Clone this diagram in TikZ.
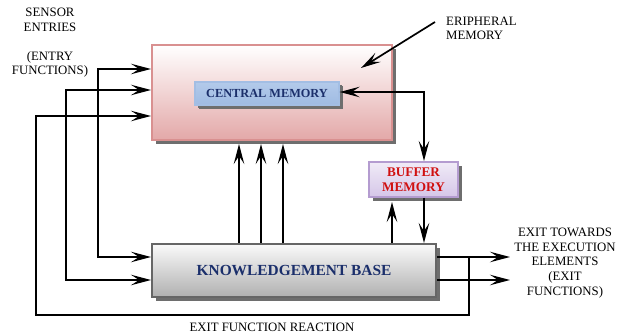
\documentclass[tikz,border=0pt]{standalone}
\usepackage{fontspec}
\setmainfont{Liberation Serif}
\usetikzlibrary{arrows.meta,shadows}

\definecolor{pinkedge}{HTML}{D99090}
\definecolor{pinkfill}{HTML}{E3A8A8}
\definecolor{blueedge}{HTML}{A3BEE4}
\definecolor{bluetop}{HTML}{B3CAEA}
\definecolor{bluemid}{HTML}{D3E2F5}
\definecolor{bluebot}{HTML}{9FBBE3}
\definecolor{lavedge}{HTML}{B49CD0}
\definecolor{lavfill}{HTML}{D5C6E8}
\definecolor{navy}{HTML}{1B2F6B}
\definecolor{redtext}{HTML}{D01010}
\definecolor{shadowgray}{HTML}{6E6E6E}

\tikzset{
  shade box/.style={draw, line width=2pt, inner sep=0pt,
    drop shadow={shadow xshift=4pt, shadow yshift=-4pt, fill=shadowgray, opacity=1}},
  label text/.style={font=\fontsize{12.8}{14.6}\selectfont, align=center, inner sep=0pt},
  tip/.tip={Stealth[length=20pt, width=10.5pt, inset=8pt]},
  conn/.style={line width=1.7pt, -tip},
  conn2/.style={line width=1.7pt, tip-tip},
  connback/.style={line width=1.7pt, tip-}
}

\begin{document}
\begin{tikzpicture}[x=1pt, y=-1pt]
\useasboundingbox (0,0) rectangle (617,336);

% memory blocks
\node[shade box, draw=pinkedge, top color=white, bottom color=pinkfill,
      minimum width=240pt, minimum height=95pt] (cm) at (272,92.5) {};
\node[shade box, line width=1.4pt, draw=blueedge, top color=bluetop, middle color=bluemid, bottom color=bluebot,
      drop shadow={shadow xshift=3pt, shadow yshift=-3pt, fill=shadowgray, opacity=1},
      minimum width=144pt, minimum height=23pt,
      font=\bfseries\fontsize{12.3}{14}\selectfont, text=navy] (core) at (267,93.5) {CENTRAL MEMORY};
\node[shade box, draw=gray!80!black, top color=gray!4, bottom color=gray!62,
      minimum width=284pt, minimum height=53pt,
      font=\bfseries\fontsize{15.4}{17}\selectfont, text=navy] (kb) at (294,270.5) {KNOWLEDGEMENT BASE};
\node[shade box, draw=lavedge, top color=lavfill!35!white, bottom color=lavfill,
      minimum width=89pt, minimum height=35pt, align=center,
      font=\bfseries\fontsize{13.2}{14.5}\selectfont, text=redtext] (buf) at (413.5,179.5) {BUFFER\\MEMORY};

% labels
\node[label text] (sensor) at (50,20) {SENSOR\\ENTRIES};
\node[label text] (entry) at (50,64.5) {(ENTRY\\FUNCTIONS)};
\node[label text, align=left, anchor=west] (periph) at (446,28.5) {ERIPHERAL\\MEMORY};
\node[label text] (exit) at (565,263) {EXIT TOWARDS\\THE EXECUTION\\ELEMENTS\\(EXIT\\FUNCTIONS)};
\node[label text] (reaction) at (272,327) {EXIT FUNCTION REACTION};

% junction points
\coordinate (j1) at (98,69);
\coordinate (j2) at (66,90);
\coordinate (j3) at (36,116);
\coordinate (loop) at (469,315);
\coordinate (out1) at (510,257);
\coordinate (out2) at (510,280);
\coordinate (pstart) at (435,22);
\coordinate (pend) at (361,68);
\coordinate (bright) at (424,92);

% entries feeding both blocks
\draw[conn2] (cm.west |- j1) -- (j1) |- (kb.west |- out1);
\draw[conn2] (cm.west |- j2) -- (j2) |- (kb.west |- out2);

% exits
\draw[conn] (kb.east |- out1) -- (out1);
\draw[conn] (kb.east |- out2) -- (out2);

% reaction loop back to the memory
\draw[connback] (cm.west |- j3) -| (j3 |- loop) -| (loop |- out1);

% knowledge base to central memory
\foreach \xx in {239,261,283}
  \draw[conn] (kb.north -| \xx,0) -- ([yshift=-3pt]cm.south -| \xx,0);

% buffer exchanges
\draw[conn] (kb.north -| 392,0) -- ([yshift=-4pt]buf.south -| 392,0);
\draw[conn] (buf.south -| 424,0) -- (kb.north -| 424,0);
\draw[conn2] (core.east |- bright) -- (bright) -- (buf.north -| bright);

% peripheral memory
\draw[conn] (pstart) -- (pend);
\end{tikzpicture}
\end{document}
